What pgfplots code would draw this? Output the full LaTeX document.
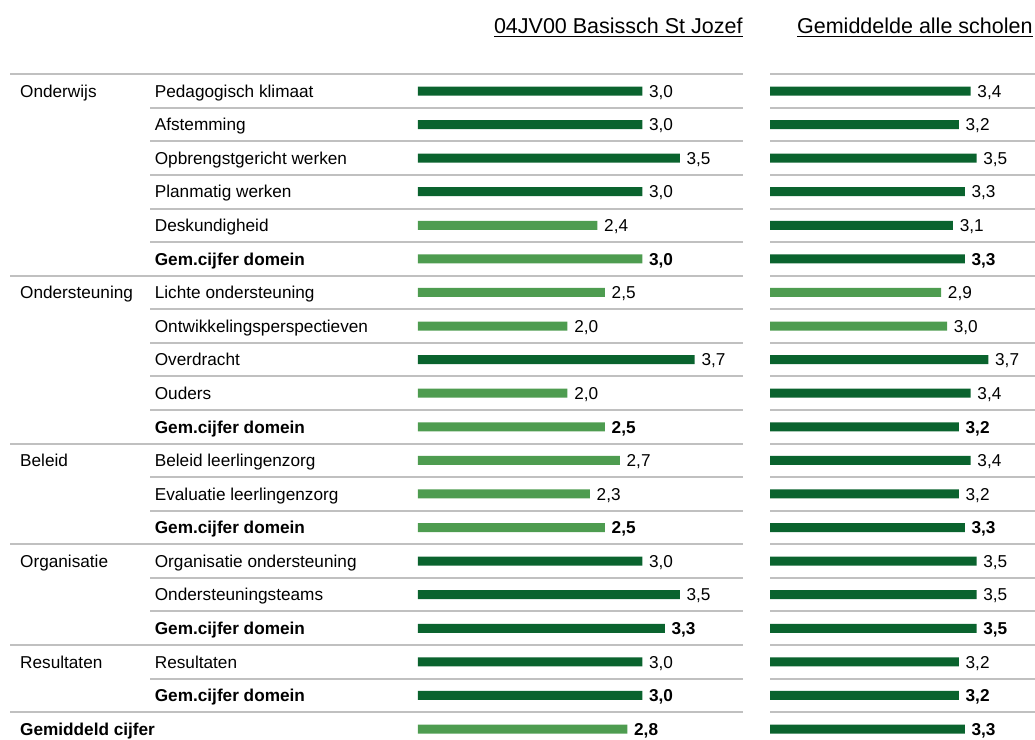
\documentclass[border=0pt]{standalone}
\usepackage{fontspec}
\setmainfont{Liberation Sans}
\usepackage{pgfplots}
\pgfplotsset{compat=1.18}

\definecolor{dkgreen}{RGB}{10,99,46}
\definecolor{ltgreen}{RGB}{78,156,80}
\definecolor{rulegray}{RGB}{192,192,192}
\newcommand\lbl{\fontsize{8.6}{10}\selectfont}

\pgfplotsset{
  panel/.style={
    scale only axis, xbar, y dir=reverse,
    ymin=-0.5, ymax=19.5, xmin=0,
    height=335.8pt,
    axis line style={draw=none}, tick style={draw=none},
    xtick=\empty, ytick=\empty,
    clip=false,
    bar width=4.5pt, bar shift=0pt,
    point meta=x,
    nodes near coords={\pgfmathprintnumber[fixed,fixed zerofill,precision=1,use comma,assume math mode=true]{\pgfplotspointmeta}},
    every node near coord/.style={anchor=base west, inner sep=0pt, xshift=3.2pt, yshift=-3.1pt, font=\lbl, text=black},
  },
  dk/.style={fill=dkgreen, draw=none},
  lt/.style={fill=ltgreen, draw=none},
  bold/.style={every node near coord/.append style={font=\lbl\bfseries}},
}

\begin{document}
\begin{tikzpicture}
\useasboundingbox (0,0) rectangle (517.5pt,-370pt);

% table rules (1px = 0.5pt)
\begin{scope}[x=0.5pt, y=-0.5pt, color=rulegray, line width=1pt]
  \foreach \k in {0,...,19} {
    \pgfmathsetmacro\yy{74.2+33.58*\k}
    \draw (150,\yy) -- (743,\yy);
    \draw (770,\yy) -- (1035,\yy);
  }
  \foreach \k in {0,6,11,14,17,19} {
    \pgfmathsetmacro\yy{74.2+33.58*\k}
    \draw (10,\yy) -- (150,\yy);
  }
\end{scope}

% titles
\node[anchor=base east, inner sep=0pt, font=\fontsize{10.75}{12}\selectfont] at (371.5pt,-16.75pt) {\underline{04JV00 Basissch St Jozef}};
\node[anchor=base east, inner sep=0pt, font=\fontsize{10.75}{12}\selectfont] at (516.5pt,-16.75pt) {\underline{Gemiddelde alle scholen}};

% school panel
\begin{axis}[panel,
  width=162.6pt, xmax=4.345,
  at={(208.9pt,-37.1pt)}, anchor=north west,
  ytick={0,...,18},
  yticklabels={Pedagogisch klimaat, Afstemming, Opbrengstgericht werken, Planmatig werken, Deskundigheid, {\bfseries Gem.cijfer domein},
    Lichte ondersteuning, Ontwikkelingsperspectieven, Overdracht, Ouders, {\bfseries Gem.cijfer domein},
    Beleid leerlingenzorg, Evaluatie leerlingenzorg, {\bfseries Gem.cijfer domein},
    Organisatie ondersteuning, Ondersteuningsteams, {\bfseries Gem.cijfer domein},
    Resultaten, {\bfseries Gem.cijfer domein}},
  yticklabel style={anchor=base west, inner sep=0pt, xshift=-127.4pt, yshift=-3.1pt, font=\lbl},
]
\addplot[dk] coordinates {(3.0,0) (3.0,1) (3.5,2) (3.0,3) (3.7,8) (3.0,14) (3.5,15) (3.0,17)};
\addplot[dk,bold] coordinates {(3.3,16) (3.0,18)};
\addplot[lt] coordinates {(2.4,4) (2.5,6) (2.0,7) (2.0,9) (2.7,11) (2.3,12)};
\addplot[lt,bold] coordinates {(3.0,5) (2.5,10) (2.5,13) (2.8,19)};

\node[anchor=base west, inner sep=0pt, yshift=-3.1pt, font=\lbl] at (axis cs:-5.318,0) {Onderwijs};
\node[anchor=base west, inner sep=0pt, yshift=-3.1pt, font=\lbl] at (axis cs:-5.318,6) {Ondersteuning};
\node[anchor=base west, inner sep=0pt, yshift=-3.1pt, font=\lbl] at (axis cs:-5.318,11) {Beleid};
\node[anchor=base west, inner sep=0pt, yshift=-3.1pt, font=\lbl] at (axis cs:-5.318,14) {Organisatie};
\node[anchor=base west, inner sep=0pt, yshift=-3.1pt, font=\lbl] at (axis cs:-5.318,17) {Resultaten};
\node[anchor=base west, inner sep=0pt, yshift=-3.1pt, font=\lbl\bfseries] at (axis cs:-5.318,19) {Gemiddeld cijfer};
\end{axis}

% all schools panel
\begin{axis}[panel,
  width=132.5pt, xmax=4.49,
  at={(385pt,-37.1pt)}, anchor=north west,
]
\addplot[dk] coordinates {(3.4,0) (3.2,1) (3.5,2) (3.3,3) (3.1,4) (3.7,8) (3.4,9) (3.4,11) (3.2,12) (3.5,14) (3.5,15) (3.2,17)};
\addplot[dk,bold] coordinates {(3.3,5) (3.2,10) (3.3,13) (3.5,16) (3.2,18) (3.3,19)};
\addplot[lt] coordinates {(2.9,6) (3.0,7)};
\end{axis}
\end{tikzpicture}
\end{document}
